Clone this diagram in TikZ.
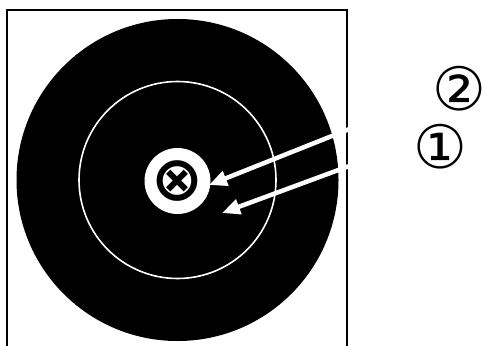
\documentclass[tikz,border=0pt]{standalone}
\usepackage{fontspec}
\newfontfamily\dejavu{DejaVu Sans}
\newfontfamily\dejavubold{DejaVu Sans Bold}
\usetikzlibrary{arrows.meta}
\tikzset{
  framestyle/.style={line width=2pt, black},
  whitearrow/.style={draw=white, line width=4.5pt, -{Triangle[length=18pt,width=15pt]}},
  circnum/.style={font=\dejavu\fontsize{60}{60}\selectfont, inner sep=0pt},
}
\begin{document}
\begin{tikzpicture}[x=1pt,y=-1pt]
\useasboundingbox (0,0) rectangle (486,345);
\clip (0,0) rectangle (486,345);
% frame
\draw[framestyle] (7,360) -- (7,10) -- (347,10) -- (347,360);
% target
\fill[black] (177.5,180) circle[radius=161];
\draw[white, line width=1.6pt] (177.5,180) circle[radius=98.5];
\fill[white] (177.5,181) circle[radius=33];
\node[font=\dejavubold\fontsize{62}{62}\selectfont, inner sep=0pt] (center) at (177.5,181) {⊗};
% arrow anchors
\coordinate (s1) at (352,128);
\coordinate (t1) at (209,185);
\coordinate (s2) at (352,165);
\coordinate (t2) at (222,213);
\draw[whitearrow] (s1) -- (t1);
\draw[whitearrow] (s2) -- (t2);
% labels
\node[circnum] (two) at (459,89) {②};
\node[circnum] (one) at (440,147) {①};
\end{tikzpicture}
\end{document}
